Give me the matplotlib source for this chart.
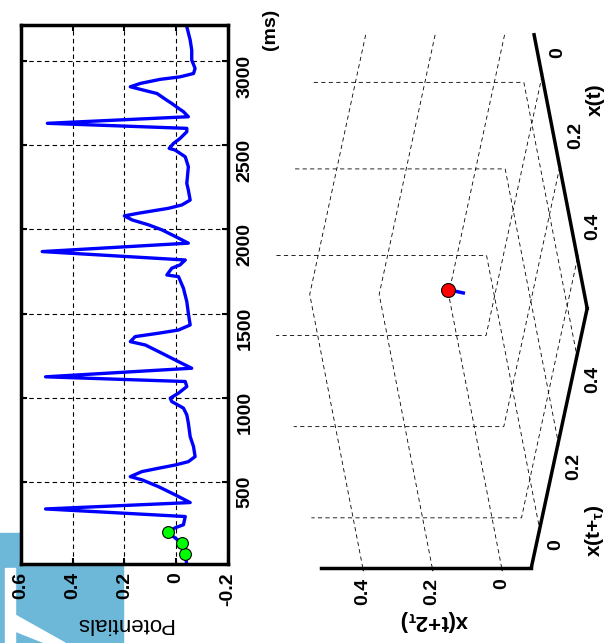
import matplotlib
matplotlib.use('Agg')
from matplotlib import pyplot as plt
from matplotlib.patches import Rectangle, Polygon
import numpy as np

plt.rcParams['font.family'] = ['Liberation Sans', 'DejaVu Sans']
plt.rcParams['font.weight'] = 'bold'
plt.rcParams['mathtext.fontset'] = 'custom'
plt.rcParams['mathtext.rm'] = 'Liberation Sans:bold'
plt.rcParams['mathtext.it'] = 'Liberation Sans:bold'
plt.rcParams['mathtext.bf'] = 'Liberation Sans:bold'

# Señal (tiempo en ms, potencial)
tiempo = [7, 72, 136, 201, 227, 245, 294, 339, 377, 423, 472, 512, 531, 561, 581,
          600, 620, 650, 709, 769, 849, 898, 938, 977, 997, 1027, 1066, 1096, 1124,
          1175, 1214, 1264, 1313, 1333, 1363, 1383, 1402, 1432, 1501, 1571, 1650,
          1719, 1729, 1769, 1789, 1818, 1868, 1918, 1958, 1997, 2027, 2056, 2080,
          2096, 2125, 2145, 2174, 2233, 2273, 2372, 2431, 2471, 2481, 2511, 2540,
          2580, 2600, 2630, 2669, 2699, 2719, 2748, 2767, 2807, 2827, 2847, 2867,
          2891, 2906, 2926, 2956, 3006, 3065, 3125, 3204]
potencial = [-0.041, -0.035, -0.022, 0.033, 0.004, -0.028, -0.035, 0.504, -0.054,
             0.004, 0.069, 0.132, 0.177, 0.132, 0.068, 0.004, -0.047, -0.073, -0.067,
             -0.054, -0.047, -0.041, -0.028, 0.017, 0.023, -0.009, -0.041, -0.035,
             0.504, -0.060, -0.009, 0.055, 0.119, 0.177, 0.158, 0.068, -0.009, -0.054,
             -0.047, -0.041, -0.028, -0.009, 0.036, 0.017, -0.015, -0.035, 0.517,
             -0.047, 0.004, 0.055, 0.107, 0.170, 0.200, 0.145, 0.030, -0.022, -0.054,
             -0.047, -0.041, -0.047, -0.035, 0.004, 0.027, 0.010, -0.015, -0.041,
             -0.041, 0.497, -0.047, -0.028, -0.009, 0.017, 0.036, 0.074, 0.126, 0.177,
             0.138, 0.062, -0.015, -0.067, -0.073, -0.060, -0.060, -0.054, -0.041]

# Muestras marcadas (t, t+tau, t+2tau)
t_marcas = [72, 136, 201]
p_marcas = [-0.035, -0.022, 0.033]

# Trayectoria en el espacio de fases
tray_x = [-0.041, -0.038, -0.035]
tray_y = [-0.035, -0.028, -0.022]
tray_z = [-0.015, 0.010, 0.033]

ticks_pot = [0.6, 0.4, 0.2, 0, -0.2]
etiq_pot = ['0.6', '0.4', '0.2', '0', '-0.2']
ticks_t = [500, 1000, 1500, 2000, 2500, 3000]
ticks_3d = [0, 0.2, 0.4]
etiq_3d = ['0', '0.2', '0.4']
lim_xy = (-0.09, 0.51)
lim_z = (-0.085, 0.52)

W, H = 605, 643
fig = plt.figure(figsize=(W / 100, H / 100), dpi=100)

# marca de agua azul en la esquina
fig.patches.append(Rectangle((0, 0), 123 / W, 110 / H, transform=fig.transFigure,
                             color='#6db7d9', zorder=-5))
fig.patches.append(Rectangle((5 / W, 0), 10 / W, 75 / H, transform=fig.transFigure,
                             color='white', zorder=-4))
fig.patches.append(Polygon([(15 / W, 28 / H), (15 / W, 12 / H), (45 / W, 0), (65 / W, 0)],
                           transform=fig.transFigure, color='white', zorder=-4))

# Grafica 2D (girada)
ax = fig.add_axes([20.7 / W, 1 - 564 / H, 207.3 / W, 539 / H])
ax.plot(potencial, tiempo, color='#0000ff', lw=2.4)
ax.plot(p_marcas, t_marcas, 'o', mfc='#00ff00', mec='k', ms=8.5, mew=0.8)
ax.set_xlim(0.6, -0.2)
ax.set_ylim(12, 3214)
ax.set_xticks(ticks_pot, etiq_pot)
ax.set_yticks(ticks_t)
ax.tick_params(direction='in', length=4, width=1.5, top=True, bottom=True,
               left=True, right=True, labelleft=False, labelright=True,
               labelsize=14)
ax.tick_params(axis='x', labelrotation=90, pad=6)
ax.tick_params(axis='y', labelrotation=90, pad=6)
ax.grid(True, color='k', ls=(0, (4, 3)), lw=0.8)
for s in ax.spines.values():
    s.set_linewidth(2.5)
ax.set_xlabel('Potentials', rotation=180, fontsize=16, labelpad=5)
fig.text(270 / W, 1 - 29 / H, '(ms)', rotation=90, ha='center', va='center', fontsize=14)

# Grafica 3D (girada)
ax3 = fig.add_axes([271 / W, 32 / H, 305 / W, 611 / H], projection='3d')
ax3.patch.set_alpha(0)
ax3.set_proj_type('ortho')
ax3.view_init(elev=11.8, azim=46.5, roll=90)
ax3.set_box_aspect((1, 1, 0.569), zoom=1.83)
ax3.plot(tray_x, tray_y, tray_z, color='#0000ff', lw=2.5)
ax3.plot(tray_x[-1:], tray_y[-1:], tray_z[-1:], 'o', mfc='#ff0000', mec='k', ms=10, mew=0.8)
ax3.set_xlim(*lim_xy)
ax3.set_ylim(*lim_xy)
ax3.set_zlim(*lim_z)
vacias = [''] * len(ticks_3d)
ax3.set_xticks(ticks_3d, vacias)
ax3.set_yticks(ticks_3d, vacias)
ax3.set_zticks(ticks_3d, vacias)
for eje in (ax3.xaxis, ax3.yaxis, ax3.zaxis):
    eje.set_pane_color((1, 1, 1, 0))
    eje.pane.set_edgecolor((1, 1, 1, 0))
    eje._axinfo['grid'].update(color='k', linewidth=0.6, linestyle=(0, (5, 4)))
    eje._axinfo['tick']['inward_factor'] = 0.12
    eje._axinfo['tick']['outward_factor'] = 0.0
    eje.line.set_linewidth(2.5)
    eje.line.set_color('k')

# etiquetas de los ticks en 3D, junto a cada arista (texto vertical en pantalla)
vertical = (-1, 1, 0)
for v, s in zip(ticks_3d, etiq_3d):
    ax3.text(v, lim_xy[1] + 0.041, lim_z[0] - 0.0095, s, zdir=vertical,
             ha='left', va='bottom', fontsize=14)
    ax3.text(lim_xy[1] + 0.022, v, lim_z[0] - 0.015, s, zdir=vertical,
             ha='left', va='top', fontsize=14)
    ax3.text(lim_xy[1] + 0.0114, lim_xy[0] - 0.0108, v, s, zdir=vertical,
             ha='center', va='top', fontsize=14)

fig.text(595 / W, 1 - 100 / H, 'x(t)', rotation=90, ha='center', va='center', fontsize=15)
fig.text(595 / W, 1 - 531 / H, 'x(t+$_\\tau$)', rotation=90, ha='center', va='center', fontsize=15)
fig.text(435 / W, 1 - 620 / H, 'x(t+2$_\\tau$)', rotation=180, ha='center', va='center', fontsize=16)

fig.savefig('out.png', dpi=100)
